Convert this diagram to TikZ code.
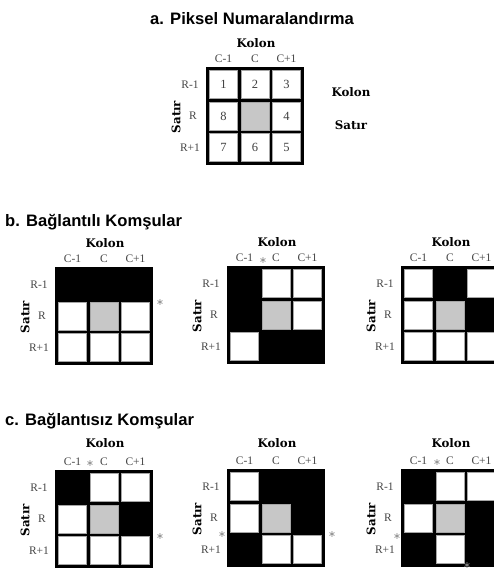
\documentclass[tikz,border=0pt]{standalone}
\usepackage{fontspec}
\setmainfont{Liberation Serif}
\newfontfamily\titlefont{Liberation Sans}
\newfontfamily\labfont{DejaVu Serif}
\newfontfamily\symfont{DejaVu Sans}
\tikzset{
  title/.style={font=\titlefont\bfseries\fontsize{16.6}{19}\selectfont, anchor=base west, inner sep=0},
  kolon/.style={font=\labfont\bfseries\fontsize{11.8}{13}\selectfont, inner sep=0},
  small/.style={font=\fontsize{11.5}{13}\selectfont, text=black!72, inner sep=0},
  num/.style={font=\fontsize{12.5}{14}\selectfont, text=black!75, inner sep=0},
  star/.style={font=\symfont\fontsize{9.5}{10}\selectfont, text=black!45, inner sep=0},
  wcell/.style={fill=white, draw=black!35, line width=0.5pt},
  gcell/.style={fill=black!22, draw=black!35, line width=0.5pt},
}
% #1 x0, #2 y0, #3 kolon offset, #4 white cells (row/col)
\newcommand\mygrid[4]{%
  \fill[black] (#1,#2) rectangle ++(98,98);
  \foreach \r/\c in {#4} {
    \path[wcell] ({#1+3.5+31.5*\c},{#2+3.5+31.5*\r}) rectangle ++(28,28);
  }
  \path[gcell] ({#1+35},{#2+35}) rectangle ++(28,28);
  \node[kolon] at ({#1+50},{#2-#3}) {Kolon};
  \node[small] at ({#1+17.5},{#2-8}) {C-1};
  \node[small] at ({#1+49},{#2-8}) {C};
  \node[small] at ({#1+80.5},{#2-8}) {C+1};
  \node[small] at ({#1-16},{#2+17.5}) {R-1};
  \node[small] at ({#1-13},{#2+49}) {R};
  \node[small] at ({#1-16},{#2+80.5}) {R+1};
  \node[kolon, rotate=90] at ({#1-30},{#2+50}) {Satır};
}
\begin{document}
\begin{tikzpicture}[x=1pt,y=-1pt]
\useasboundingbox (0,0) rectangle (494,571);
\fill[white] (0,0) rectangle (494,571);
\clip (0,0) rectangle (494,571);

% ---- a ----
\node[title] (ta) at (150,24) {a. Piksel Numaralandırma};
\mygrid{206}{67}{24}{0/0,0/1,0/2,1/0,1/2,2/0,2/1,2/2}
\node[num] (n1) at (223.5,84.5) {1};
\node[num] (n2) at (255,84.5) {2};
\node[num] (n3) at (286.5,84.5) {3};
\node[num] (n8) at (223.5,116) {8};
\node[num] (n4) at (286.5,116) {4};
\node[num] (n7) at (223.5,147.5) {7};
\node[num] (n6) at (255,147.5) {6};
\node[num] (n5) at (286.5,147.5) {5};
\node[kolon] (rk) at (351,92) {Kolon};
\node[kolon] (rs) at (351,125) {Satır};

% ---- b ----
\node[title] (tb) at (5,226) {b. Bağlantılı Komşular};
\mygrid{55}{267}{24}{1/0,1/2,2/0,2/1,2/2}
\mygrid{227}{266}{24}{0/1,0/2,1/2,2/0}
\mygrid{401}{266}{24}{0/0,0/2,1/0,2/0,2/1,2/2}
\node[star] (sb1) at (160,303) {∗};
\node[star] (sb2) at (263,261) {∗};

% ---- c ----
\node[title] (tc) at (5,425) {c. Bağlantısız Komşular};
\mygrid{55}{470}{27}{0/1,0/2,1/0,2/0,2/1,2/2}
\mygrid{227}{469}{26}{0/0,1/0,2/1,2/2}
\mygrid{401}{469}{26}{0/1,0/2,1/0,2/1}
\node[star] (sc1) at (90,464) {∗};
\node[star] (sc2) at (160,537) {∗};
\node[star] (sc3) at (222,535) {∗};
\node[star] (sc4) at (332,535) {∗};
\node[star] (sc5) at (437,463) {∗};
\node[star] (sc6) at (397,537) {∗};
\node[star] (sc7) at (467,566) {∗};
\end{tikzpicture}
\end{document}
